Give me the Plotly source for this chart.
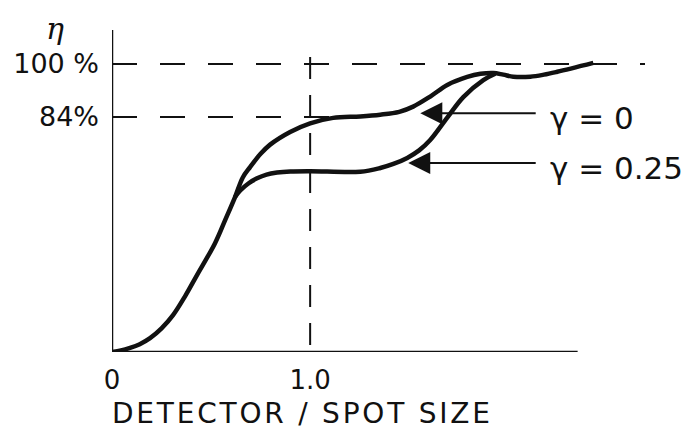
import plotly.graph_objects as go

# Curva común (desde el origen hasta la bifurcación)
common_x = [0.0, 0.045, 0.091, 0.140, 0.192, 0.250, 0.308, 0.370, 0.429, 0.520, 0.571, 0.621]
common_eta = [0.0, 0.5, 1.4, 2.7, 4.8, 8.2, 12.8, 19.5, 26.7, 37.8, 45.8, 53.8]

# gamma = 0 (rama superior)
g0_x = [0.660, 0.697, 0.750, 0.798, 0.899, 1.0, 1.116, 1.253, 1.354, 1.450, 1.520,
        1.606, 1.692, 1.793, 1.860, 1.924, 1.975, 2.025, 2.111, 2.180, 2.247, 2.429]
g0_eta = [60.6, 64.2, 68.8, 72.0, 76.4, 79.4, 81.3, 81.8, 82.4, 83.4, 85.2,
          88.7, 92.7, 95.5, 96.6, 96.9, 96.3, 95.6, 95.6, 96.3, 97.3, 100.4]

# gamma = 0.25 (rama inferior)
g25_x = [0.646, 0.690, 0.732, 0.780, 0.833, 0.900, 1.0, 1.253, 1.354, 1.420, 1.490, 1.550,
         1.606, 1.692, 1.773, 1.874, 1.934]
g25_eta = [56.0, 58.6, 60.3, 61.6, 62.3, 62.7, 62.8, 62.6, 63.9, 65.3, 67.4, 70.0,
           73.6, 81.4, 88.5, 94.4, 96.6]

x_ticks = [0, 1.0]
x_labels = ["0", "1.0"]
eta_ticks = [81.6, 100]
eta_labels = ["84%", "100 %"]
x_title = "DETECTOR / SPOT SIZE"

FONT = "DejaVu Sans"
BLACK = "#111111"

fig = go.Figure()

for xs, ys in [(common_x + g0_x, common_eta + g0_eta),
               ([common_x[-1]] + g25_x, [common_eta[-1]] + g25_eta)]:
    fig.add_trace(go.Scatter(
        x=xs, y=ys, mode="lines",
        line=dict(color=BLACK, width=4.5, shape="spline", smoothing=1.0),
        showlegend=False, hoverinfo="skip",
    ))

# ejes dibujados a mano
fig.add_shape(type="line", x0=0, x1=0, y0=0, y1=111.8,
              line=dict(color=BLACK, width=2.5))
fig.add_shape(type="line", x0=0, x1=2.35, y0=0, y1=0,
              line=dict(color=BLACK, width=2.5))

# líneas de referencia a trazos
fig.add_shape(type="line", x0=0, x1=2.69, y0=eta_ticks[1], y1=eta_ticks[1],
              line=dict(color=BLACK, width=2, dash="25px,23px"))
fig.add_shape(type="line", x0=0, x1=1.25, y0=eta_ticks[0], y1=eta_ticks[0],
              line=dict(color=BLACK, width=2, dash="25px,23px"))
fig.add_shape(type="line", x0=1.0, x1=1.0, y0=102.4, y1=0,
              line=dict(color=BLACK, width=2, dash="22px,16px"))

# flechas y etiquetas gamma
for tip_x, y, label in [(1.556, 82.9, "γ = 0"), (1.495, 65.6, "γ = 0.25")]:
    fig.add_annotation(
        x=tip_x, y=y, ax=2.146, ay=y, xref="x", yref="y", axref="x", ayref="y",
        text="", showarrow=True, arrowhead=2, arrowsize=2.2, arrowwidth=2,
        arrowcolor=BLACK,
    )
    fig.add_annotation(
        x=2.2, y=y - 1.8, xref="x", yref="y", text=label, showarrow=False,
        xanchor="left", yanchor="middle",
        font=dict(family=FONT, size=31, color=BLACK),
    )

fig.add_annotation(x=-0.107, y=0.947, xref="paper", yref="paper", text="<i>η</i>",
                   xanchor="center", yanchor="middle", showarrow=False,
                   font=dict(family="DejaVu Serif", size=30, color=BLACK))
# título del eje con el espaciado ancho del original
fig.add_annotation(x=-0.004, y=-0.18, xref="paper", yref="paper",
                   text="\u200a".join(x_title),
                   showarrow=False, xanchor="left", yanchor="middle",
                   font=dict(family=FONT, size=28, color=BLACK))

fig.update_layout(
    width=691, height=422,
    margin=dict(l=104, r=54, t=2, b=78),
    paper_bgcolor="white", plot_bgcolor="white",
    xaxis=dict(range=[0, 2.69], showgrid=False, zeroline=False, showline=False,
               tickvals=x_ticks, ticktext=x_labels, ticks="",
               tickfont=dict(family=FONT, size=26, color=BLACK), ticklabelstandoff=10),
    yaxis=dict(range=[0, 118.75], showgrid=False, zeroline=False, showline=False,
               tickvals=eta_ticks, ticktext=eta_labels, ticks="",
               tickfont=dict(family=FONT, size=27, color=BLACK), ticklabelstandoff=12),
)

fig.write_html("out.html")
